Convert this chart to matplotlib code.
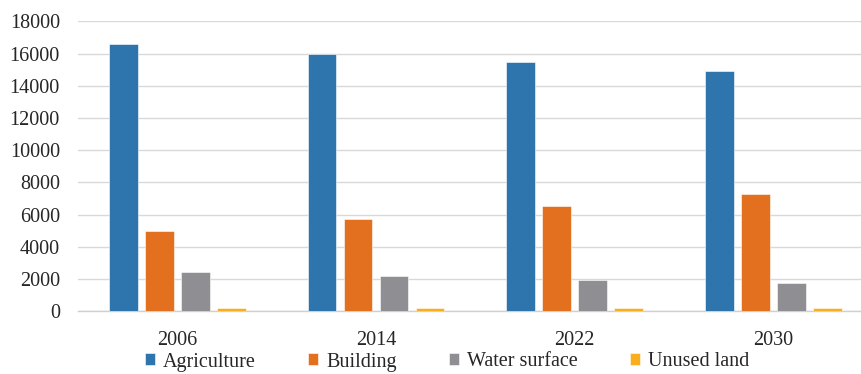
import numpy as np
import matplotlib
matplotlib.use("Agg")
import matplotlib.pyplot as plt

# Land use area by year
years = ["2006", "2014", "2022", "2030"]
agriculture = [16570, 15990, 15450, 14920]
building = [4960, 5750, 6550, 7280]
water_surface = [2460, 2170, 1940, 1760]
unused_land = [190, 190, 190, 190]

series = [
    ("Agriculture", agriculture, "#2E74AD"),
    ("Building", building, "#E2701F"),
    ("Water surface", water_surface, "#8F8F93"),
    ("Unused land", unused_land, "#F9AE1B"),
]

plt.rcParams["font.family"] = ["Liberation Serif", "DejaVu Serif"]

fig = plt.figure(figsize=(8.62, 3.74), dpi=100)
ax = fig.add_axes([78 / 862, 62.7 / 374, 784 / 862, 290 / 374])

x = np.arange(len(years))
step = 0.1812
width = 0.1444
for i, (name, vals, col) in enumerate(series):
    ax.bar(x + (i - 1.5) * step, vals, width, color=col, label=name,
           edgecolor="white", linewidth=0.4, zorder=3)

ax.set_ylim(0, 18000)
ax.set_yticks(range(0, 18001, 2000))
ax.set_xlim(-0.5, 3.446)
ax.set_xticks(x)
ax.set_xticklabels(years)
ax.tick_params(axis="both", length=0, labelsize=14.5, colors="#262626")
ax.tick_params(axis="y", pad=13)
ax.tick_params(axis="x", pad=14)
ax.yaxis.grid(True, color="#D9D9D9", linewidth=1.0, zorder=0)
for s in ["top", "right", "left"]:
    ax.spines[s].set_visible(False)
ax.spines["bottom"].set_color("#D0D0D0")
ax.spines["bottom"].set_linewidth(1.0)

fig.legend(loc="center", bbox_to_anchor=(447 / 862, 12 / 374), ncol=4,
           frameon=False, fontsize=14.5, handlelength=0.5, handleheight=0.55,
           handletextpad=0.4, columnspacing=2.6, labelcolor="#262626",
           borderaxespad=0, borderpad=0)

fig.savefig("out.png", dpi=100)
